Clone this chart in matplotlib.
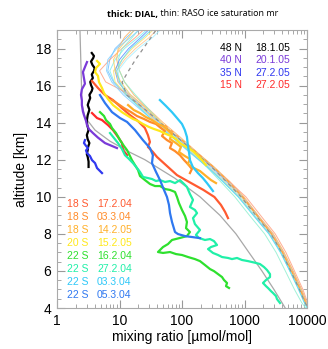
import matplotlib
matplotlib.use('Agg')
import matplotlib.pyplot as plt
from matplotlib.ticker import LogLocator, NullFormatter, MultipleLocator

plt.rcParams['font.family'] = ['Liberation Sans', 'DejaVu Sans']

# ---------------- data ----------------
# RASO ice saturation mixing ratio profiles (thin lines), common altitude grid
raso_alt = [19.3, 18.6, 18.0, 17.4, 16.8, 16.2, 15.5, 14.8, 14.0, 13.2, 12.4,
            11.6, 10.8, 10.0, 9.0, 8.0, 7.0, 6.0, 5.0, 4.3, 3.9]
raso_mr = [
    [34, 20, 12, 8.5, 7.0, 8.2, 13, 22, 40, 76, 140, 270, 470, 820, 1420, 2500, 3800, 5300, 7400, 9100, 10500],
    [22, 13, 8.5, 7, 6.5, 8, 12.5, 23, 44, 88, 170, 320, 560, 940, 1620, 2800, 4200, 5900, 8100, 9800, 11000],
    [19, 12, 9.5, 9, 10, 12, 17, 28, 50, 95, 175, 330, 590, 980, 1650, 2900, 4300, 6000, 8200, 9900, 11000],
    [42, 26, 16, 11, 8, 8.5, 13, 23, 41, 78, 145, 280, 490, 840, 1450, 2550, 3900, 5500, 7600, 9300, 10800],
    [30, 18, 11, 7, 4.8, 6, 15, 27, 46, 85, 160, 310, 580, 1050, 1800, 3100, 4600, 6300, 8600, 10200, 11000],
    [24, 16, 11, 9.5, 10, 12, 18, 28, 46, 80, 140, 250, 420, 700, 1200, 2100, 3200, 4500, 6300, 8200, 10000],
    [36, 22, 14, 10, 8.5, 9.5, 14, 24, 44, 84, 158, 300, 520, 900, 1560, 2700, 4050, 5700, 7900, 9600, 11000],
    [48, 30, 18, 12, 9, 9.5, 14, 23, 40, 75, 140, 275, 500, 880, 1560, 2750, 4150, 5800, 8000, 9700, 11000],
    [55, 34, 20, 13, 9.5, 10, 15, 25, 43, 78, 146, 280, 500, 860, 1480, 2600, 3950, 5500, 7700, 9400, 10800],
    [20, 14, 10, 8, 8.5, 10.5, 15, 26, 46, 86, 165, 315, 545, 920, 1580, 2720, 4100, 5750, 7900, 9600, 11000],
    [26, 15, 9, 6.5, 6.2, 7.5, 11.5, 20, 38, 72, 135, 260, 460, 800, 1400, 2500, 3850, 5400, 7500, 9200, 10600],
    [40, 24, 15, 11, 9, 10, 13, 21, 37, 70, 132, 255, 455, 790, 1380, 2450, 3750, 5300, 7300, 9000, 10400],
]
raso_colors = ['#80eef0', '#70c0ff', '#ffb060', '#ffe070', '#ffa080', '#90f0d0',
               '#5a90ff', '#ffc890', '#a8f0ff', '#ffd060', '#80d0ff', '#60e0f0']

# mean saturation profiles (dashed)
mean_gray_mr = [44, 32, 24, 18, 14, 11, 13, 24, 45, 85, 160, 300, 520, 880, 1520, 2650, 3950, 5500, 7600, 9300, 10800]
mean_orange_mr = [None] * 8 + [48, 90, 170, 320, 560, 930, 1580, 2700, 4050, 5650, 7800, 9500, 11000]

# gray saturation curve
sat_alt = [19.0, 17.0, 15.0, 14.3, 13.6, 13.0, 12.4, 12.0, 11.0, 10.0, 9.0, 8.0, 7.0, 6.0, 5.0, 4.0]
sat_mr = [2.33, 2.42, 2.51, 2.8, 4.06, 7.05, 14.7, 25.5, 77, 194, 405, 730, 1175, 1900, 2960, 4480]

# DIAL profiles (thick lines)
n48_alt = [17.76, 17.6, 17.49, 17.3, 17.11, 16.95, 16.79, 16.6, 16.41, 16.2, 16.03, 15.85, 15.71,
           15.5, 15.33, 15.1, 14.95, 14.7, 14.41, 14.1, 13.87, 13.6, 13.33, 13.1, 12.9, 12.7,
           12.52, 12.3, 12.15, 11.9, 11.61]
n48_mr = [3.6, 3.9, 3.8, 3.5, 3.7, 4.0, 3.9, 3.6, 3.75, 3.4, 3.5, 3.7, 3.6, 3.3, 3.4, 3.2, 3.1,
          3.3, 3.1, 3.0, 3.05, 3.2, 3.0, 3.1, 3.3, 3.15, 3.1, 3.0, 3.1, 3.2, 3.2]

n40_alt = [17.27, 17.0, 16.73, 16.4, 16.1, 15.8, 15.5, 15.2, 14.95, 14.6, 14.41, 14.1, 13.87,
           13.65, 13.44, 13.2, 12.9, 12.63]
n40_mr = [3.02, 2.8, 2.6, 2.7, 2.8, 2.5, 2.42, 2.5, 2.5, 2.6, 2.7, 2.91, 3.02, 3.25, 3.76, 4.5, 5.86, 9.1]

n35_alt = [13.06, 12.9, 12.75, 12.63, 12.5, 12.36, 12.2, 11.98, 11.82, 11.55, 11.28]
n35_mr = [2.8, 2.7, 2.91, 3.13, 2.91, 3.02, 3.37, 3.63, 4.06, 4.37, 5.25]

n15_alt = [14.52, 14.25, 14.14, 13.87, 13.60, 13.23, 12.90, 12.52, 12.25]
n15_mr = [3.63, 4.37, 5.25, 6.55, 7.87, 9.46, 10.96, 11.4, 13.2]

s18a_alt = [16.25, 15.87, 15.49, 15.22, 14.79, 14.41, 14.09, 13.71, 13.33, 12.96, 12.69, 12.42,
            12.15, 11.71, 11.17, 10.74, 10.37, 9.99, 9.56, 9.18, 8.85]
s18a_mr = [3.63, 4.53, 5.86, 7.87, 10.9, 14.7, 19.7, 25.5, 28.5, 30.7, 28.5, 34.2, 39.8, 55.4,
           83.2, 140, 220, 330, 420, 490, 545]

s18b_alt = [15.22, 15.01, 14.79, 14.57, 14.36, 14.20, 14.04, 13.93, 13.71, 13.55, 13.28, 13.06,
            12.90, 12.63, 12.47, 12.25, 11.98, 11.77, 11.50, 11.28]
s18b_mr = [7.58, 9.47, 11.8, 15.3, 19.0, 24.6, 30.7, 38.3, 46.0, 53.2, 47.9, 57.4, 69.0, 64.1,
           77.0, 92.6, 108, 124, 144, 134]

s18c_alt = [14.95, 14.68, 14.52, 14.30, 14.14, 13.93, 13.82, 13.60, 13.39, 13.12, 12.90, 12.69,
            12.42, 12.20, 12.04, 11.77, 11.55, 11.39, 11.12, 10.90, 10.74]
s18c_mr = [13.7, 17.0, 21.2, 26.5, 33.0, 41.2, 49.5, 59.5, 69.0, 64.1, 79.9, 96.2, 89.3, 111,
           134, 124, 155, 194, 242, 292, 350]

s20_alt = [17.33, 17.17, 16.95, 16.73, 16.52, 16.19, 15.87, 15.60, 15.28, 14.95, 14.74, 14.57,
           14.36, 14.20, 14.09, 13.93, 13.77, 13.66, 13.55, 13.39, 13.28, 13.12, 12.90, 12.74,
           12.58, 12.42, 12.20, 11.98, 11.71]
s20_mr = [4.37, 4.87, 4.21, 4.06, 4.53, 4.70, 5.25, 5.65, 6.54, 7.87, 9.47, 10.9, 13.7, 16.4,
          19.7, 23.7, 29.5, 35.5, 44.3, 55.4, 66.5, 79.9, 92.6, 111, 134, 155, 180, 209, 242]

s22a_alt = [14.57, 14.36, 14.14, 13.93, 13.71, 13.44, 13.06, 12.74, 12.52, 12.20, 11.98, 11.71,
            11.44, 11.12, 10.90, 10.69, 10.58, 10.58, 10.42, 10.37, 10.26, 9.99, 9.66, 9.29,
            8.96, 8.64, 8.31, 8.10, 7.88, 7.78, 7.67, 7.45, 7.29, 7.13, 7.02, 6.97, 7.02, 6.91,
            6.86, 6.75, 6.64, 6.53, 6.32, 6.10, 5.99, 5.83, 5.67, 5.51, 5.35, 5.18, 5.08]
s22a_mr = [4.87, 5.65, 6.08, 7.05, 7.59, 8.79, 10.2, 11.8, 13.2, 14.7, 15.8, 17.7, 19.8, 21.3,
           25.6, 30.8, 37.0, 44.5, 53.5, 64.3, 77.3, 83.2, 89.5, 100, 112, 120, 116, 134, 120,
           92.9, 69.2, 59.7, 49.7, 44.5, 41.3, 49.7, 64.3, 80.2, 100, 125, 161, 194, 233, 281,
           325, 377, 437, 470, 525, 506, 565]

s22b_alt = [13.44, 13.17, 12.90, 12.58, 12.25, 12.04, 11.82, 11.55, 11.34, 11.07, 11.01, 10.96,
            10.85, 10.90, 10.80, 10.85, 10.74, 10.90, 10.69, 10.53, 10.15, 9.83, 9.45, 9.29,
            9.12, 8.85, 8.53, 8.21, 7.94, 7.78, 7.67, 7.72, 7.61, 7.40, 7.29, 7.18, 6.97, 6.86,
            6.75, 6.70, 6.64, 6.70, 6.59, 6.53, 6.48, 6.43, 6.37, 6.21, 6.05, 5.83, 5.67, 5.51,
            5.35, 5.18, 5.08, 4.91, 4.81, 4.64, 4.48, 4.27]
s22b_mr = [7.05, 8.17, 9.46, 10.96, 12.2, 14.2, 16.4, 19.1, 21.3, 23.8, 28.6, 33.1, 38.4, 44.5,
           53.5, 64.3, 77.3, 92.9, 108, 120, 134, 150, 134, 161, 174, 150, 161, 194, 167, 187,
           233, 281, 325, 363, 291, 261, 313, 377, 437, 545, 631, 759, 912, 1138, 1318, 1528,
           1770, 2051, 2291, 2559, 2559, 2208, 1977, 2208, 2377, 2655, 2858, 3192, 3311, 3698]

s22c_alt = [15.22, 14.90, 14.57, 14.25, 13.93, 13.60, 13.23, 12.79, 12.36, 11.98, 11.61, 11.28,
            11.01, 10.74, 10.53, 10.31]
s22c_mr = [44.3, 55.4, 69.0, 83.2, 99.9, 111, 120, 124, 130, 134, 149, 180, 216, 251, 280, 313]

s22d_alt = [15.49, 15.06, 14.57, 14.25, 14.04, 13.6, 13.06, 12.63, 12.25, 11.82, 11.34, 10.9,
            10.37, 9.99, 9.56, 9.12, 8.64, 8.10, 7.99, 7.88, 7.83, 7.77]
s22d_mr = [4.87, 5.86, 7.58, 10.2, 13.2, 17.7, 23.7, 30.7, 34.2, 33.1, 38.4, 44.5, 51.5, 57.5,
           61.9, 64.3, 69.2, 77.3, 86.3, 112, 144, 194]

dial = [
    (n48_mr, n48_alt, '#000000'),
    (n40_mr, n40_alt, '#7a3ad8'),
    (n35_mr, n35_alt, '#3038f0'),
    (n15_mr, n15_alt, '#ff2a2a'),
    (s18a_mr, s18a_alt, '#ff5a30'),
    (s18b_mr, s18b_alt, '#ff8c2a'),
    (s18c_mr, s18c_alt, '#ffb02a'),
    (s20_mr, s20_alt, '#ffe81a'),
    (s22a_mr, s22a_alt, '#2ee02e'),
    (s22b_mr, s22b_alt, '#20f0a8'),
    (s22c_mr, s22c_alt, '#2ec8f8'),
    (s22d_mr, s22d_alt, '#2f78f0'),
]

north_sta = ['48 N', '40 N', '35 N', '15 N']
north_dates = ['18.1.05', '20.1.05', '27.2.05', '27.2.05']
north_cols = ['#000000', '#7a3ad8', '#3038f0', '#ff2a2a']

south_sta = ['18 S', '18 S', '18 S', '20 S', '22 S', '22 S', '22 S', '22 S']
south_dates = ['17.2.04', '03.3.04', '14.2.05', '15.2.05', '16.2.04', '27.2.04', '03.3.04', '05.3.04']
south_cols = ['#ff5a30', '#ff8c2a', '#ffb02a', '#ffe81a', '#2ee02e', '#20f0a8', '#2ec8f8', '#2f78f0']

# ---------------- plot ----------------
fig = plt.figure(figsize=(3.28, 3.49), dpi=100)
ax = fig.add_axes([57 / 328, 41 / 349, 250 / 328, 278 / 349])

for mr, col in zip(raso_mr, raso_colors):
    ax.plot(mr, raso_alt, color=col, lw=0.7, alpha=0.85)

ax.plot(sat_mr, sat_alt, color='#a8a8a8', lw=0.9)
ax.plot(mean_gray_mr, raso_alt, color='#909090', lw=0.9, ls=(0, (3, 3)))
ax.plot([m if m is not None else float('nan') for m in mean_orange_mr], raso_alt,
        color='#ffa040', lw=0.9, ls=(3, (3, 3)))

for mr, alt, col in dial:
    ax.plot(mr, alt, color=col, lw=1.6)

ax.set_xscale('log')
ax.set_xlim(1, 10000)
ax.set_ylim(4, 19)
ax.set_xticks([1, 10, 100, 1000, 10000])
ax.set_xticklabels(['1', '10', '100', '1000', '10000'])
ax.xaxis.set_minor_locator(LogLocator(base=10, subs=range(2, 10)))
ax.xaxis.set_minor_formatter(NullFormatter())
ax.set_yticks(range(4, 19, 2))
ax.yaxis.set_minor_locator(MultipleLocator(0.5))
ax.tick_params(which='both', direction='in', top=True, right=True,
               color='#999999', labelsize=10, pad=4)
ax.tick_params(which='major', length=6, width=0.8)
ax.tick_params(which='minor', length=3, width=0.6)
for s in ax.spines.values():
    s.set_color('#aaaaaa')
    s.set_linewidth(0.8)

ax.set_xlabel('mixing ratio [µmol/mol]', fontsize=10, labelpad=2)
ax.set_ylabel('altitude [km]', fontsize=10, labelpad=6)

for i in range(len(north_sta)):
    y = 0.935 - 0.0445 * i
    ax.text(0.652, y, north_sta[i], transform=ax.transAxes, color=north_cols[i],
            fontsize=7.5, va='center')
    ax.text(0.792, y, north_dates[i], transform=ax.transAxes, color=north_cols[i],
            fontsize=7.5, va='center')

for i in range(len(south_sta)):
    y = 0.374 - 0.0467 * i
    ax.text(0.04, y, south_sta[i], transform=ax.transAxes, color=south_cols[i],
            fontsize=7.5, va='center')
    ax.text(0.16, y, south_dates[i], transform=ax.transAxes, color=south_cols[i],
            fontsize=7.5, va='center')

t1 = fig.text(107 / 328, 1 - 14 / 349, 'thick: DIAL,', fontsize=6.5, fontweight='bold',
              family='Open Sans', va='center')
ax.annotate(' thin: RASO ice saturation mr', xy=(1, 0.5), xycoords=t1, va='center',
            fontsize=6.5, family='Open Sans', annotation_clip=False)

fig.savefig('out.png', dpi=100)
